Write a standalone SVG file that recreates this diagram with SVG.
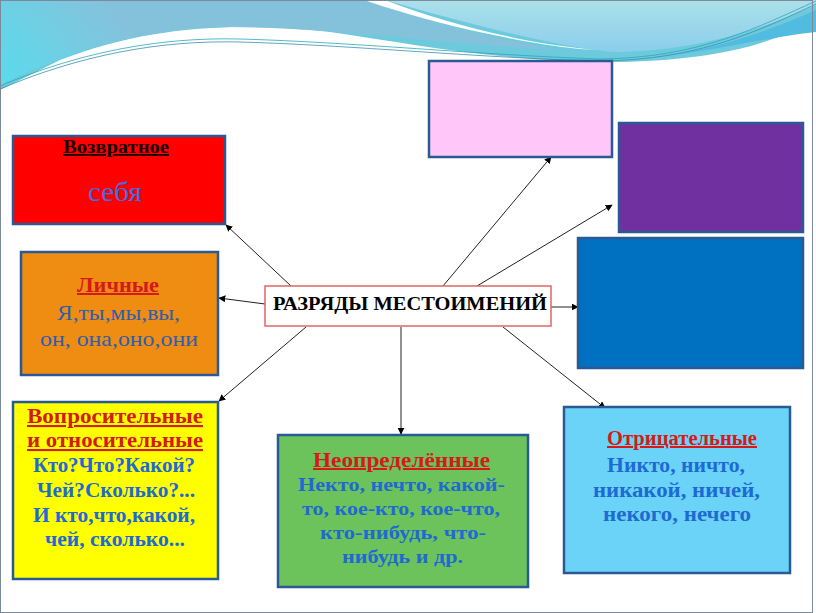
<svg xmlns="http://www.w3.org/2000/svg" width="816" height="613" viewBox="0 0 816 613">
<defs>
<linearGradient id="gL" gradientUnits="userSpaceOnUse" x1="100" y1="0" x2="0" y2="90">
<stop offset="0" stop-color="#84c2dc"/><stop offset="1" stop-color="#58dcec"/>
</linearGradient>
<linearGradient id="gR" gradientUnits="userSpaceOnUse" x1="0" y1="0" x2="0" y2="55">
<stop offset="0" stop-color="#ace0ea"/><stop offset="1" stop-color="#88cdec"/>
</linearGradient>
<marker id="ah" viewBox="0 0 10 10" refX="9" refY="5" markerWidth="7" markerHeight="7" orient="auto" markerUnits="userSpaceOnUse">
<path d="M0,0 L10,5 L0,10 z" fill="#000"/>
</marker>
</defs>
<style>
.box{stroke:#2a5a94;stroke-width:2.5}
.t{font-family:"Liberation Serif","DejaVu Serif",serif;text-anchor:middle}
.h{font-weight:bold;fill:#d41a1a;text-decoration:underline}
.b{font-weight:bold;fill:#1e6ad2}
.c{stroke:#222;stroke-width:1;fill:none;marker-end:url(#ah)}
</style>
<rect x="0" y="0" width="816" height="613" fill="#fff"/>
<g id="background">
<path d="M0,0 H816 V20 C760,50 700,60 620,62 C500,62 420,45 330,32 C240,22 150,25 60,60 L0,90 Z" fill="#6ccadc"/>
<path d="M0,0 L364,0 C420,20 500,40 560,50 C450,45 350,28 230,27 C150,27 70,50 0,85 Z" fill="url(#gL)"/>
<path d="M364,0 L385,0 C450,25 530,45 600,50 C560,50 450,30 364,0 Z" fill="#ffffff"/>
<path d="M385,0 L816,0 L816,5 C760,30 700,50 620,52 C580,52 470,25 385,0 Z" fill="url(#gR)"/>
<path d="M816,10 C760,35 700,55 625,60 C700,55 760,38 816,32 Z" fill="#52bbe0"/>
<path d="M0,89 C80,55 160,40 240,42 C350,45 480,58 600,61 C700,60 760,30 816,4" stroke="#3a8fb0" stroke-width="0.8" fill="none"/>
<path d="M0,86 C80,52 160,37 240,39 C350,42 480,55 600,59 C700,58 760,26 816,1" stroke="#2aa8b8" stroke-width="0.8" fill="none"/>
<rect x="0.5" y="0.5" width="812" height="612" fill="none" stroke="#7a8a9a" stroke-width="1"/>
</g>
<g id="connectors">
<line class="c" x1="291" y1="286" x2="226" y2="225"/>
<line class="c" x1="265" y1="304" x2="219" y2="298"/>
<line class="c" x1="306" y1="327" x2="219" y2="401"/>
<line class="c" x1="401" y1="327" x2="401" y2="434"/>
<line class="c" x1="503" y1="327" x2="605" y2="408"/>
<line class="c" x1="551" y1="307" x2="578" y2="307"/>
<line class="c" x1="477" y1="286" x2="612" y2="205"/>
<line class="c" x1="443" y1="286" x2="551" y2="157"/>
</g>
<g id="center">
<rect x="265" y="286" width="286" height="40" fill="#fff" stroke="#e06464" stroke-width="1.5"/>
<text class="t" x="410" y="310" font-size="19" font-weight="bold" fill="#000" textLength="274" lengthAdjust="spacingAndGlyphs">РАЗРЯДЫ МЕСТОИМЕНИЙ</text>
</g>
<g id="reflexive">
<rect class="box" x="13" y="136" width="212" height="88" fill="#ff0000"/>
<text class="t" x="116" y="153" font-size="18" font-weight="bold" fill="#1a0000" text-decoration="underline" textLength="106" lengthAdjust="spacingAndGlyphs">Возвратное</text>
<text class="t" x="115" y="201" font-size="27" fill="#3e6ee0" textLength="54" lengthAdjust="spacingAndGlyphs">себя</text>
</g>
<g id="personal">
<rect class="box" x="21" y="252" width="197" height="123" fill="#ef8c12"/>
<text class="t h" x="118" y="292" font-size="20" textLength="82" lengthAdjust="spacingAndGlyphs">Личные</text>
<text class="t" x="118.5" y="320" font-size="22" fill="#2f5eb0" textLength="123" lengthAdjust="spacingAndGlyphs">Я,ты,мы,вы,</text>
<text class="t" x="119" y="346" font-size="22" fill="#2f5eb0" textLength="158" lengthAdjust="spacingAndGlyphs">он, она,оно,они</text>
</g>
<g id="interrogative">
<rect class="box" x="13" y="402" width="205" height="177" fill="#ffff00"/>
<text class="t h" x="115" y="423" font-size="21" textLength="176" lengthAdjust="spacingAndGlyphs">Вопросительные</text>
<text class="t h" x="115" y="447" font-size="21" textLength="176" lengthAdjust="spacingAndGlyphs">и относительные</text>
<text class="t b" x="114" y="472" font-size="20" textLength="162" lengthAdjust="spacingAndGlyphs">Кто?Что?Какой?</text>
<text class="t b" x="116" y="497" font-size="20" textLength="158" lengthAdjust="spacingAndGlyphs">Чей?Сколько?...</text>
<text class="t b" x="114" y="522" font-size="20" textLength="162" lengthAdjust="spacingAndGlyphs">И кто,что,какой,</text>
<text class="t b" x="115" y="546" font-size="20" textLength="140" lengthAdjust="spacingAndGlyphs">чей, сколько...</text>
</g>
<g id="indefinite">
<rect class="box" x="278" y="435" width="250" height="152" fill="#6cc35c"/>
<text class="t h" x="401.5" y="467" font-size="20" textLength="177" lengthAdjust="spacingAndGlyphs">Неопределённые</text>
<text class="t b" x="401.5" y="491" font-size="19" textLength="207" lengthAdjust="spacingAndGlyphs">Некто, нечто, какой-</text>
<text class="t b" x="401" y="515" font-size="19" textLength="198" lengthAdjust="spacingAndGlyphs">то, кое-кто, кое-что,</text>
<text class="t b" x="403" y="539" font-size="19" textLength="166" lengthAdjust="spacingAndGlyphs">кто-нибудь, что-</text>
<text class="t b" x="402.5" y="563" font-size="19" textLength="121" lengthAdjust="spacingAndGlyphs">нибудь и др.</text>
</g>
<g id="negative">
<rect class="box" x="564" y="407" width="226" height="166" fill="#6bd3f7"/>
<text class="t h" x="682" y="445" font-size="20" textLength="150" lengthAdjust="spacingAndGlyphs">Отрицательные</text>
<text class="t b" x="676" y="472" font-size="21" textLength="138" lengthAdjust="spacingAndGlyphs">Никто, ничто,</text>
<text class="t b" x="676.5" y="497" font-size="21" textLength="167" lengthAdjust="spacingAndGlyphs">никакой, ничей,</text>
<text class="t b" x="677" y="521" font-size="21" textLength="148" lengthAdjust="spacingAndGlyphs">некого, нечего</text>
</g>
<g id="pink-box">
<rect class="box" x="429" y="61" width="183" height="96" fill="#ffc6fa"/>
</g>
<g id="purple-box">
<rect class="box" x="619" y="123" width="184" height="109" fill="#7030a0"/>
</g>
<g id="blue-box">
<rect class="box" x="578" y="238" width="225" height="130" fill="#0070c0"/>
</g>
</svg>
